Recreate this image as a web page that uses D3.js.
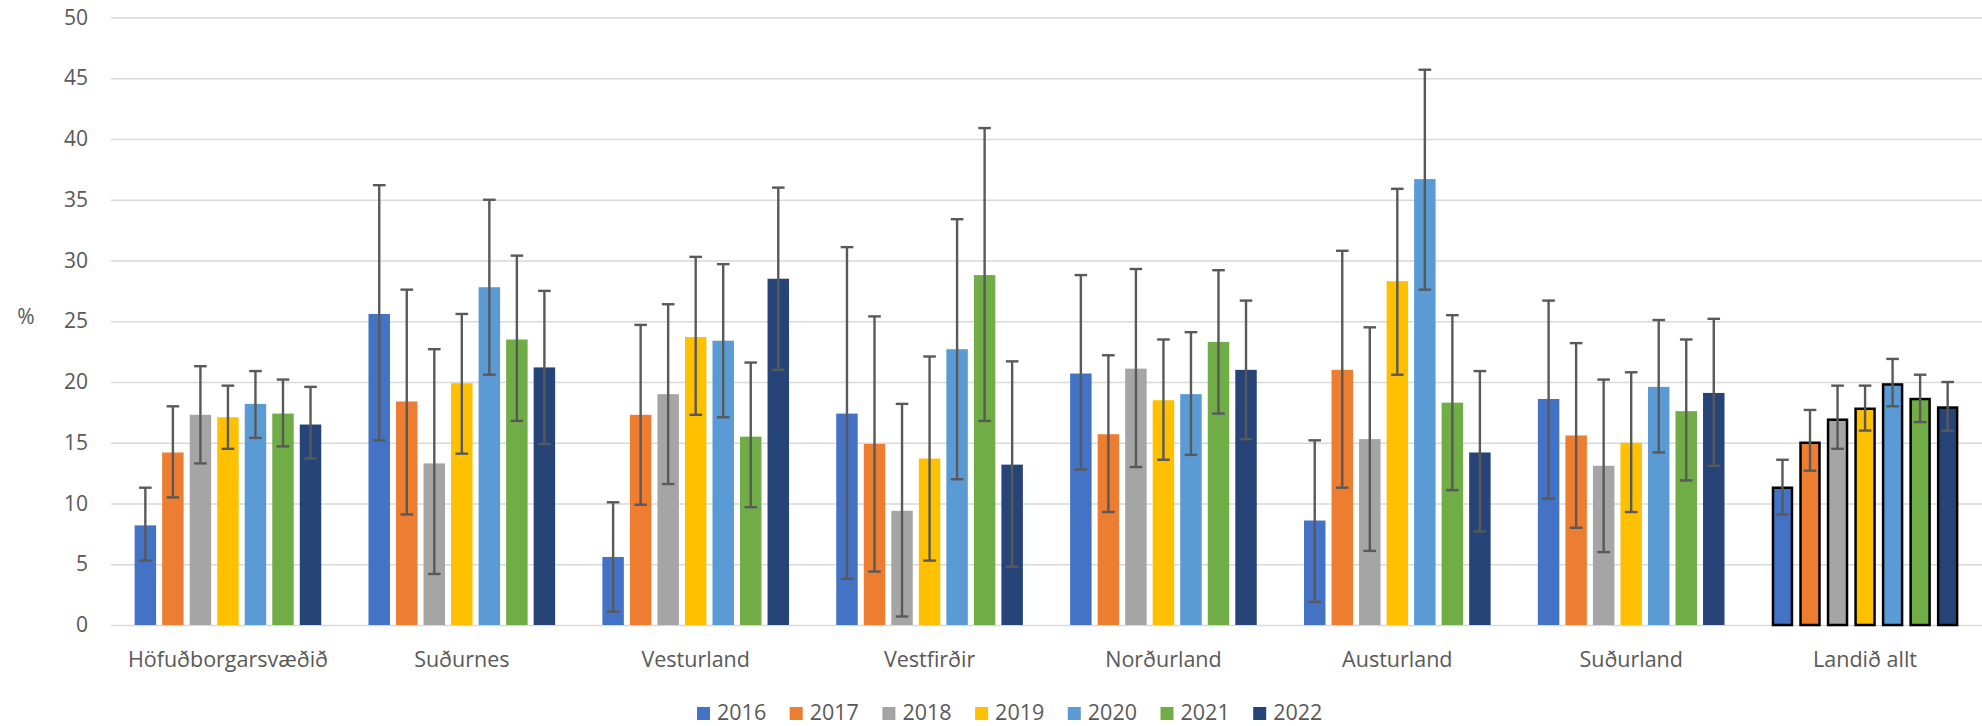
<!DOCTYPE html>
<html>
<head>
<meta charset="utf-8">
<script src="https://cdn.jsdelivr.net/npm/d3@7"></script>
<style>
  html, body { margin: 0; padding: 0; background: #fff; }
  svg { display: block; }
  text { font-family: "Open Sans", "Noto Sans", sans-serif; fill: #595959; }
</style>
</head>
<body>
<svg id="chart" width="1982" height="726"></svg>
<script>
const categories = ["Höfuðborgarsvæðið", "Suðurnes", "Vesturland", "Vestfirðir", "Norðurland", "Austurland", "Suðurland", "Landið allt"];
const years = ["2016", "2017", "2018", "2019", "2020", "2021", "2022"];
const colors = ["#4472C4", "#ED7D31", "#A5A5A5", "#FFC000", "#5B9BD5", "#70AD47", "#264478"];
const yTicks = [0, 5, 10, 15, 20, 25, 30, 35, 40, 45, 50];

// values[yearIndex][categoryIndex]
const values = [
  [8.2, 25.6, 5.6, 17.4, 20.7, 8.6, 18.6, 11.4],
  [14.2, 18.4, 17.3, 14.9, 15.7, 21.0, 15.6, 15.1],
  [17.3, 13.3, 19.0, 9.4, 21.1, 15.3, 13.1, 17.0],
  [17.1, 19.9, 23.7, 13.7, 18.5, 28.3, 15.0, 17.9],
  [18.2, 27.8, 23.4, 22.7, 19.0, 36.7, 19.6, 19.9],
  [17.4, 23.5, 15.5, 28.8, 23.3, 18.3, 17.6, 18.7],
  [16.5, 21.2, 28.5, 13.2, 21.0, 14.2, 19.1, 18.0]
];
const errHigh = [
  [11.3, 36.2, 10.1, 31.1, 28.8, 15.2, 26.7, 13.6],
  [18.0, 27.6, 24.7, 25.4, 22.2, 30.8, 23.2, 17.7],
  [21.3, 22.7, 26.4, 18.2, 29.3, 24.5, 20.2, 19.7],
  [19.7, 25.6, 30.3, 22.1, 23.5, 35.9, 20.8, 19.7],
  [20.9, 35.0, 29.7, 33.4, 24.1, 45.7, 25.1, 21.9],
  [20.2, 30.4, 21.6, 40.9, 29.2, 25.5, 23.5, 20.6],
  [19.6, 27.5, 36.0, 21.7, 26.7, 20.9, 25.2, 20.0]
];
const errLow = [
  [5.3, 15.2, 1.1, 3.8, 12.8, 1.9, 10.4, 9.1],
  [10.5, 9.1, 9.9, 4.4, 9.3, 11.3, 8.0, 12.7],
  [13.3, 4.2, 11.6, 0.7, 13.0, 6.1, 6.0, 14.5],
  [14.5, 14.1, 17.3, 5.3, 13.6, 20.6, 9.3, 16.0],
  [15.4, 20.6, 17.1, 12.0, 14.0, 27.6, 14.2, 18.0],
  [14.7, 16.8, 9.7, 16.8, 17.4, 11.1, 11.9, 16.7],
  [13.7, 14.9, 21.0, 4.8, 15.3, 7.7, 13.1, 16.0]
];
const highlighted = ["Landið allt"];

const svg = d3.select("#chart");
const plotLeft = 111, plotRight = 1982, plotTop = 17.5, plotBottom = 625;

const y = d3.scaleLinear().domain([0, 50]).range([plotBottom, plotTop]);
const x0 = d3.scaleBand().domain(categories).range([plotLeft, plotRight]).padding(0);
const bw = x0.bandwidth();
const x1 = d3.scaleBand().domain(years).range([bw * 0.101, bw * 0.899]).paddingInner(0.22).paddingOuter(0);

// gridlines
const yAxis = d3.axisLeft(y).tickValues(yTicks).tickSize(-(plotRight - plotLeft)).tickPadding(23);
const gy = svg.append("g").attr("transform", `translate(${plotLeft},0)`).call(yAxis);
gy.select(".domain").remove();
gy.selectAll(".tick line").attr("stroke", "#d9d9d9").attr("stroke-width", 1.4);
gy.selectAll(".tick text").attr("font-size", 21).attr("fill", "#595959")
  .style("font-family", "'Open Sans', sans-serif");

// y title
svg.append("text").attr("x", 26).attr("y", 316).attr("text-anchor", "middle")
  .attr("dominant-baseline", "central").attr("font-size", 21).text("%");

// bars
const groups = svg.append("g").selectAll("g").data(categories).join("g")
  .attr("transform", d => `translate(${x0(d)},0)`);

groups.each(function(cat, ci) {
  const g = d3.select(this);
  const hl = highlighted.includes(cat);
  years.forEach((yr, yi) => {
    const v = values[yi][ci];
    g.append("rect")
      .attr("x", x1(yr) + (hl ? 1.25 : 0))
      .attr("width", x1.bandwidth() - (hl ? 2.5 : 0))
      .attr("y", y(v) + (hl ? 1.25 : 0))
      .attr("height", y(0) - y(v) - (hl ? 1.25 : 0))
      .attr("fill", colors[yi])
      .attr("stroke", hl ? "#000" : "none")
      .attr("stroke-width", hl ? 2.5 : 0);
  });
});

// error bars
groups.each(function(cat, ci) {
  const g = d3.select(this);
  years.forEach((yr, yi) => {
    const cx = x1(yr) + x1.bandwidth() / 2;
    const hi = errHigh[yi][ci], lo = errLow[yi][ci];
    const eg = g.append("g").attr("stroke", "#595959").attr("stroke-width", 2.4);
    eg.append("line").attr("x1", cx).attr("x2", cx).attr("y1", y(hi)).attr("y2", y(lo));
    eg.append("line").attr("x1", cx - 6.3).attr("x2", cx + 6.3).attr("y1", y(hi)).attr("y2", y(hi));
    eg.append("line").attr("x1", cx - 6.3).attr("x2", cx + 6.3).attr("y1", y(lo)).attr("y2", y(lo));
  });
});

// category labels
svg.append("g").selectAll("text").data(categories).join("text")
  .attr("x", d => x0(d) + bw / 2).attr("y", 667)
  .attr("text-anchor", "middle").attr("font-size", 21.5).text(d => d);

// legend
const legend = svg.append("g").selectAll("g").data(years).join("g")
  .attr("transform", (d, i) => `translate(${697 + i * 92.7},0)`);
legend.append("rect").attr("x", 0).attr("y", 707).attr("width", 13).attr("height", 13)
  .attr("fill", (d, i) => colors[i]);
legend.append("text").attr("x", 20).attr("y", 720).attr("font-size", 21.5).text(d => d);
</script>
</body>
</html>
